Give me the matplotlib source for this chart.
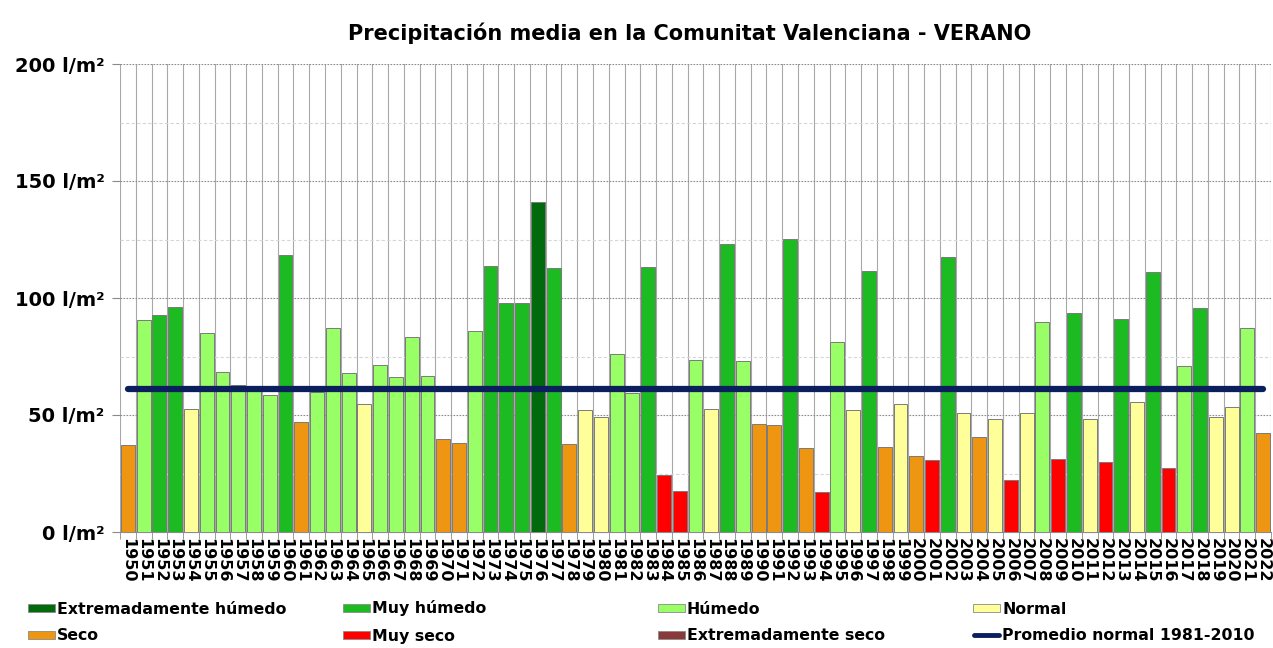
import matplotlib.pyplot as plt
import matplotlib.patches as patches
from matplotlib.lines import Line2D
import numpy as np

# datos
years = list(range(1950, 2023))
precip = [37.2, 90.6, 92.6, 96.3, 52.6, 84.9, 68.4, 62.8, 61.0, 58.7,
          118.5, 46.9, 59.8, 87.2, 67.8, 54.7, 71.4, 66.1, 83.5, 66.7,
          39.9, 38.2, 85.9, 113.8, 97.7, 98.0, 141.0, 112.8, 37.7, 52.0,
          49.3, 76.2, 59.4, 113.1, 24.5, 17.7, 73.5, 52.6, 123.2, 73.1,
          46.3, 45.9, 125.4, 35.9, 17.0, 81.2, 52.0, 111.4, 36.5, 54.7,
          32.5, 30.8, 117.5, 50.9, 40.6, 48.3, 22.4, 50.9, 89.9, 31.1,
          93.6, 48.3, 29.8, 91.0, 55.6, 111.1, 27.4, 71.1, 95.7, 49.3,
          53.3, 87.2, 42.4]
# EH=extremadamente húmedo, MH=muy húmedo, H=húmedo, N=normal, S=seco, MS=muy seco
clase = ['S', 'H', 'MH', 'MH', 'N', 'H', 'H', 'H', 'H', 'H',
         'MH', 'S', 'H', 'H', 'H', 'N', 'H', 'H', 'H', 'H',
         'S', 'S', 'H', 'MH', 'MH', 'MH', 'EH', 'MH', 'S', 'N',
         'N', 'H', 'H', 'MH', 'MS', 'MS', 'H', 'N', 'MH', 'H',
         'S', 'S', 'MH', 'S', 'MS', 'H', 'N', 'MH', 'S', 'N',
         'S', 'MS', 'MH', 'N', 'S', 'N', 'MS', 'N', 'H', 'MS',
         'MH', 'N', 'MS', 'MH', 'N', 'MH', 'MS', 'H', 'MH', 'N',
         'N', 'H', 'S']
promedio = 61.1

colores = {
    'EH': '#006a0c',
    'MH': '#1cbb22',
    'H': '#99ff66',
    'N': '#ffff99',
    'S': '#ee9611',
    'MS': '#ff0000',
    'ES': '#8b3a3a',
}
nombres = {
    'EH': 'Extremadamente húmedo',
    'MH': 'Muy húmedo',
    'H': 'Húmedo',
    'N': 'Normal',
    'S': 'Seco',
    'MS': 'Muy seco',
    'ES': 'Extremadamente seco',
}
# orden de la leyenda (filas)
leyenda_filas = [['EH', 'MH', 'H', 'N'], ['S', 'MS', 'ES', 'LINEA']]
linea_color = '#0a1f5c'

W, H = 1273, 648
fig = plt.figure(figsize=(W / 100, H / 100), dpi=100)
ax = fig.add_axes([120 / W, 1 - 532 / H, 1151 / W, 468 / H])

x = np.arange(len(years))
ax.bar(x, precip, width=0.88, color=[colores[c] for c in clase],
       edgecolor='#7a7a7a', linewidth=0.7, zorder=3)

# línea del promedio
ax.plot([x[0], x[-1]], [promedio, promedio], color=linea_color, lw=4.5,
        solid_capstyle='round', zorder=4)

ax.set_xlim(-0.5, len(years) - 0.5)
ax.set_ylim(0, 200)

# rejilla
for xv in np.arange(-0.5, len(years), 1.0):
    ax.axvline(xv, color='#a8a8a8', lw=0.8, zorder=1)
for yv in range(25, 201, 25):
    if yv % 50 == 0:
        ax.axhline(yv, color='#8c8c8c', lw=0.8, ls=(0, (1.5, 1.2)), zorder=1)
    else:
        ax.axhline(yv, color='#d6d6d6', lw=0.8, ls=(0, (3, 2)), zorder=1)

for s in ['top', 'right', 'left']:
    ax.spines[s].set_visible(False)
ax.spines['bottom'].set_color('#8a8a8a')

ax.set_yticks([0, 50, 100, 150, 200])
ax.set_yticklabels(['%d l/m²' % v for v in [0, 50, 100, 150, 200]],
                   fontsize=14, fontweight='bold')
ax.tick_params(axis='y', length=6, color='#8a8a8a', pad=5)

ax.set_xticks(x)
ax.set_xticklabels([str(y) for y in years], rotation=-90, fontsize=11.5,
                   fontweight='bold')
ax.set_xticks(np.arange(-0.5, len(years), 1.0), minor=True)
ax.tick_params(axis='x', which='major', length=0, pad=4)
ax.tick_params(axis='x', which='minor', length=5, color='#8a8a8a')

fig.text(690 / W, 1 - 33 / H, 'Precipitación media en la Comunitat Valenciana - VERANO',
         ha='center', va='center', fontsize=15, fontweight='bold')

# leyenda dibujada a mano en coordenadas de figura
col_x = [28, 343, 658, 973]
fila_y = [608, 635]
for j, fila in enumerate(leyenda_filas):
    for i, k in enumerate(fila):
        x0 = col_x[i]
        y0 = fila_y[j]
        if k == 'LINEA':
            fig.add_artist(Line2D([(x0 + 1) / W, (x0 + 26) / W],
                                  [1 - y0 / H, 1 - y0 / H], color=linea_color,
                                  lw=3.5, solid_capstyle='round'))
            txt = 'Promedio normal 1981-2010'
        else:
            fig.add_artist(patches.Rectangle((x0 / W, 1 - (y0 + 4) / H), 27 / W, 8 / H,
                                             facecolor=colores[k], edgecolor='#8a8a8a',
                                             lw=0.6))
            txt = nombres[k]
        fig.text((x0 + 29) / W, 1 - (y0 + 5.5) / H, txt, ha='left', va='baseline',
                 fontsize=11.3, fontweight='bold')

plt.savefig('out.png', dpi=100)
